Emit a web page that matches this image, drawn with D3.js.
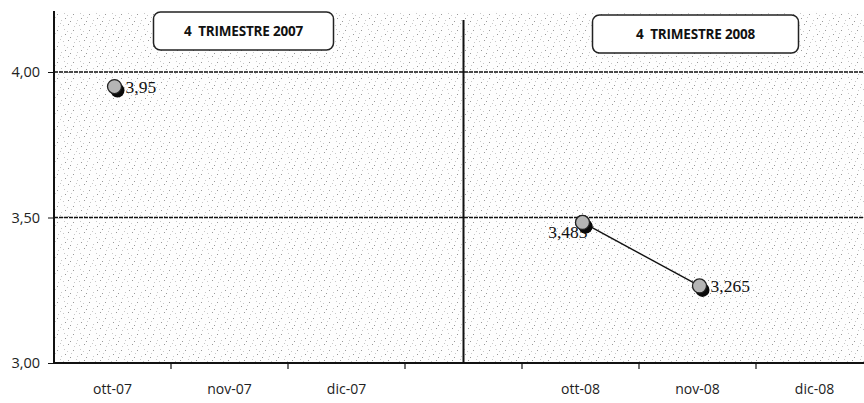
<!DOCTYPE html>
<html><head><meta charset="utf-8">
<script src="https://cdn.jsdelivr.net/npm/d3@7"></script>
<style>body{margin:0;background:#fff}svg{display:block}</style>
</head><body>
<svg id="c" width="864" height="403"></svg>
<script>
const categories = ["ott-07","nov-07","dic-07","","ott-08","nov-08","dic-08"];
const series2007 = [{cat:"ott-07", v:3.95, label:"3,95", pos:"right"}];
const series2008 = [{cat:"ott-08", v:3.483, label:"3,483", pos:"left"},{cat:"nov-08", v:3.265, label:"3,265", pos:"right"}];
const yTicks = [3.0, 3.5, 4.0];
const yTickLabels = ["3,00","3,50","4,00"];
const titles = [{text:"4  TRIMESTRE 2007", cat:"nov-07"},{text:"4  TRIMESTRE 2008", cat:"nov-08"}];

(function(){
const svg = d3.select("#c");
const mL = 54, mR = 873, mT = 11, mB = 363;
const x = d3.scaleBand().domain(categories).range([mL, mR]).padding(0);
const y = d3.scaleLinear().domain([3.0, 4.2]).range([mB, mB - 1.2*291]);

// stipple pattern
const defs = svg.append("defs");
const pat = defs.append("pattern").attr("id","stip").attr("patternUnits","userSpaceOnUse").attr("width",16).attr("height",16);
pat.append("rect").attr("width",16).attr("height",16).attr("fill","#fefefe");
[[1,2],[7,1],[13,4],[4,8],[10,10],[0,13],[6,5],[15,9],[3,15],[9,14],[12,7]].forEach((p,i)=>{
  pat.append("rect").attr("x",p[0]).attr("y",p[1]).attr("width",1).attr("height",1).attr("fill",i%3===0?"#999":"#c8c8c8");
});
svg.append("rect").attr("x",mL).attr("y",mT).attr("width",864-mL).attr("height",mB-mT).attr("fill","url(#stip)");

// gridlines
svg.append("g").selectAll("line").data(yTicks.filter(d=>d>3)).join("line")
  .attr("x1",mL).attr("x2",864).attr("y1",d=>y(d)).attr("y2",d=>y(d))
  .attr("stroke","#111").attr("stroke-width",1.6).attr("stroke-dasharray","4,1");

// separator
svg.append("line").attr("x1",x("")+x.bandwidth()/2).attr("x2",x("")+x.bandwidth()/2)
  .attr("y1",20).attr("y2",mB).attr("stroke","#111").attr("stroke-width",2);

// y axis
const yAxis = d3.axisLeft(y).tickValues(yTicks).tickFormat((d,i)=>yTickLabels[i]).tickSize(6).tickSizeOuter(0);
const gy = svg.append("g").attr("transform",`translate(${mL},0)`).call(yAxis);
gy.select(".domain").attr("d",`M0,${mT}V${mB}`).attr("stroke","#111").attr("stroke-width",2);
gy.selectAll(".tick line").attr("stroke","#111").attr("x1",-6).attr("x2",0);
gy.selectAll(".tick text").attr("font-family","'Open Sans', sans-serif").attr("font-size",14.5).attr("fill","#222").attr("x",-14);

// x axis
const gx = svg.append("g").attr("transform",`translate(0,${mB})`);
gx.append("line").attr("x1",mL).attr("x2",864).attr("y1",0).attr("y2",0).attr("stroke","#111").attr("stroke-width",2);
gx.selectAll("line.t").data(categories.slice(1)).join("line").attr("class","t")
  .attr("x1",d=>x(d)).attr("x2",d=>x(d)).attr("y1",0).attr("y2",6).attr("stroke","#111").attr("stroke-width",1.2);
gx.selectAll("text").data(categories).join("text")
  .attr("x",d=>x(d)+x.bandwidth()/2).attr("y",31).attr("text-anchor","middle")
  .attr("font-family","'Open Sans', sans-serif").attr("font-size",14).attr("fill","#222").text(d=>d);

// titles
titles.forEach((t,i)=>{
  const cx = x(t.cat)+x.bandwidth()/2 + (i===0? 14 : -2);
  const w = i===0 ? 180 : 206;
  const g = svg.append("g");
  g.append("rect").attr("x",cx-w/2).attr("y",12+i*3).attr("width",w).attr("height",38).attr("rx",7)
    .attr("fill","#fff").attr("stroke","#222").attr("stroke-width",1.5);
  g.append("text").attr("x",cx).attr("y",12+i*3+24).attr("text-anchor","middle")
    .attr("font-family","'Open Sans', sans-serif").attr("font-weight","bold").attr("font-size",13.5).attr("fill","#111")
    .attr("letter-spacing","-0.2").style("white-space","pre").text(t.text);
});

// line 2008
const line = d3.line().x(d=>x(d.cat)+x.bandwidth()/2+2).y(d=>y(d.v));
svg.append("path").datum(series2008).attr("d",line).attr("fill","none").attr("stroke","#111").attr("stroke-width",1.4);

function drawPoints(data){
  const g = svg.append("g");
  const cx = d=>x(d.cat)+x.bandwidth()/2+2;
  const shadow = sel => sel.attr("cx",d=>cx(d)+3).attr("cy",d=>y(d.v)+4).attr("r",7).attr("fill","#0a0a0a");
  const marker = sel => sel.attr("cx",cx).attr("cy",d=>y(d.v)).attr("r",7).attr("fill","#b5b5b5").attr("stroke","#222").attr("stroke-width",1.3);
  g.selectAll("circle.s").data(data).join("circle").attr("class","s").call(shadow);
  g.selectAll("circle.m").data(data).join("circle").attr("class","m").call(marker);
  g.selectAll("text").data(data).join("text")
    .attr("x",d=>d.pos==="right"? cx(d)+11 : cx(d)+5)
    .attr("y",d=>y(d.v)+ (d.pos==="right"?6:16))
    .attr("text-anchor",d=>d.pos==="right"?"start":"end")
    .attr("font-family","'Liberation Serif', serif").attr("font-size",17.5).attr("fill","#111")
    .text(d=>d.label);
  const lefts = data.filter(d=>d.pos==="left");
  g.selectAll("circle.s2").data(lefts).join("circle").attr("class","s2").call(shadow);
  g.selectAll("circle.m2").data(lefts).join("circle").attr("class","m2").call(marker);
}
drawPoints(series2007);
drawPoints(series2008);
})();
</script>
</body></html>
